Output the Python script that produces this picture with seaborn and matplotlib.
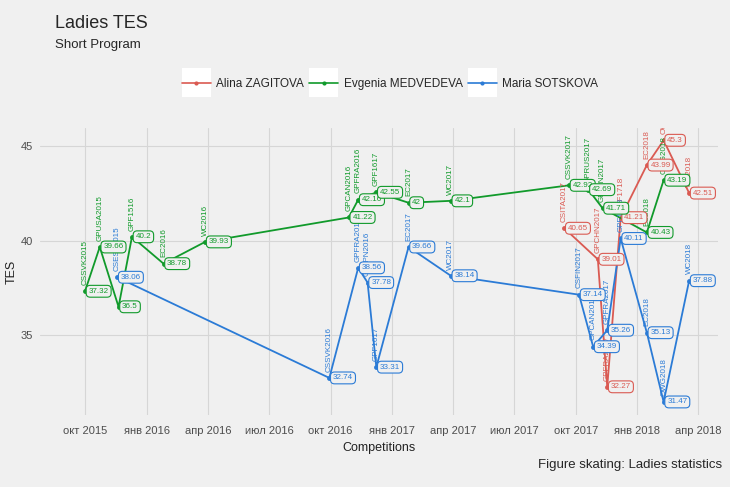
import matplotlib
matplotlib.use('Agg')
import matplotlib.pyplot as plt
from matplotlib.patches import Patch, Rectangle
from matplotlib.lines import Line2D
from matplotlib.legend_handler import HandlerTuple, HandlerPatch
import pandas as pd
import seaborn as sns

# Short program TES per competition (start date of each event)
zag_events = ['CSITA2017', 'GPCHN2017', 'GPFRA2017', 'GPF1718', 'EC2018', 'OWG2018', 'WC2018']
zag_dates = ['2017-09-14', '2017-11-03', '2017-11-17', '2017-12-07', '2018-01-15', '2018-02-09', '2018-03-19']
zag_tes = [40.65, 39.01, 32.27, 41.21, 43.99, 45.3, 42.51]

med_events = ['CSSVK2015', 'GPUSA2015', 'GPRUS2015', 'GPF1516', 'EC2016', 'WC2016',
              'GPCAN2016', 'GPFRA2016', 'GPF1617', 'EC2017', 'WC2017',
              'CSSVK2017', 'GPRUS2017', 'GPJPN2017', 'EC2018', 'OWG2018']
med_dates = ['2015-10-01', '2015-10-23', '2015-11-20', '2015-12-10', '2016-01-26', '2016-03-28',
             '2016-10-28', '2016-11-11', '2016-12-08', '2017-01-25', '2017-03-29',
             '2017-09-21', '2017-10-20', '2017-11-10', '2018-01-15', '2018-02-09']
med_tes = [37.32, 39.66, 36.5, 40.2, 38.78, 39.93, 41.22, 42.16, 42.55, 42.0, 42.1,
           42.92, 42.69, 41.71, 40.43, 43.19]

sot_events = ['CSEST2015', 'CSSVK2016', 'GPFRA2016', 'GPJPN2016', 'GPF1617', 'EC2017', 'WC2017',
              'CSFIN2017', 'GPCAN2017', 'GPFRA2017', 'GPF1718', 'EC2018', 'OWG2018', 'WC2018']
sot_dates = ['2015-11-18', '2016-09-29', '2016-11-11', '2016-11-25', '2016-12-08', '2017-01-25', '2017-03-29',
             '2017-10-06', '2017-10-27', '2017-11-17', '2017-12-07', '2018-01-15', '2018-02-09', '2018-03-19']
sot_tes = [38.06, 32.74, 38.56, 37.78, 33.31, 39.66, 38.14, 37.14, 34.39, 35.26, 40.11,
           35.13, 31.47, 37.88]

skaters = ['Alina ZAGITOVA', 'Evgenia MEDVEDEVA', 'Maria SOTSKOVA']
palette = {'Alina ZAGITOVA': '#DA5A52', 'Evgenia MEDVEDEVA': '#119A2B', 'Maria SOTSKOVA': '#2B7BD6'}
hidden_names = {('Evgenia MEDVEDEVA', 'GPRUS2015')}

ru_months = {1: 'янв', 4: 'апр', 7: 'июл', 10: 'окт'}

frames = []
for name, ev, d, v in zip(skaters, [zag_events, med_events, sot_events],
                          [zag_dates, med_dates, sot_dates], [zag_tes, med_tes, sot_tes]):
    frames.append(pd.DataFrame({'skater': name, 'event': ev,
                                'date': pd.to_datetime(d), 'tes': v}))
df = pd.concat(frames, ignore_index=True)

BG = '#F0F0F0'
sns.set_style('whitegrid', {'axes.facecolor': BG, 'figure.facecolor': BG,
                            'grid.color': '#D6D6D6', 'axes.edgecolor': BG})
plt.rcParams['font.family'] = ['Liberation Sans', 'DejaVu Sans']

fig = plt.figure(figsize=(7.3, 4.87), dpi=100, facecolor=BG)
ax = fig.add_axes([40 / 730, 1 - 415 / 487, 678 / 730, 287 / 487])

sns.lineplot(data=df, x='date', y='tes', hue='skater', hue_order=skaters, palette=palette,
             estimator=None, marker='o', markersize=3.5, markeredgewidth=0,
             linewidth=1.3, legend=False, ax=ax)

# competition names, rotated above each point
for row in df.itertuples():
    if (row.skater, row.event) in hidden_names:
        continue
    ax.annotate(row.event, (row.date, row.tes), xytext=(0, 4.5), textcoords='offset points',
                rotation=90, ha='center', va='bottom', fontsize=5.8,
                color=palette[row.skater], clip_on=True, zorder=4)

# value boxes
for row in df.itertuples():
    c = palette[row.skater]
    ax.annotate(f'{row.tes:g}', (row.date, row.tes), xytext=(2.6, 0), textcoords='offset points',
                ha='left', va='center', fontsize=5.8, color=c, zorder=5, clip_on=True,
                bbox=dict(boxstyle='round,pad=0.3,rounding_size=0.5', fc=BG, ec=c, lw=0.8))

ticks = pd.date_range('2015-10-01', '2018-04-01', freq='3MS')
ax.set_xticks(ticks)
ax.set_xticklabels([f'{ru_months[t.month]} {t.year}' for t in ticks])
ax.set_xlim(pd.Timestamp('2015-07-26'), pd.Timestamp('2018-05-01'))
ax.set_ylim(30.78, 45.95)
ax.set_yticks([35, 40, 45])
ax.tick_params(axis='both', length=0, labelsize=8, labelcolor='#4D4D4D', pad=5)
ax.tick_params(axis='x', pad=8)
ax.grid(True, color='#D6D6D6', linewidth=0.8)
for s in ax.spines.values():
    s.set_visible(False)

ax.set_xlabel('Competitions', fontsize=9, color='#222222')
ax.xaxis.set_label_coords(0.5, -(442 - 415) / 287)
ax.set_ylabel('TES', fontsize=9, color='#222222')
ax.yaxis.set_label_coords(-(40 - 18) / 678, 0.5)

fig.text(55 / 730, 1 - 24 / 487, 'Ladies TES', fontsize=13, va='center')
fig.text(55 / 730, 1 - 45 / 487, 'Short Program', fontsize=9.5, va='center')
fig.text(722 / 730, 1 - 465 / 487, 'Figure skating: Ladies statistics', fontsize=9.5,
         ha='right', va='center')


def key_square(legend, orig_handle, xdescent, ydescent, width, height, fontsize):
    # white square centred on the key line
    cy = (height - ydescent) / 2
    return Rectangle(xy=(-xdescent, cy - width / 2), width=width, height=width)


handles = [(Patch(facecolor='white', edgecolor='none'),
            Line2D([], [], color=palette[s], marker='o', markersize=3, markeredgewidth=0, linewidth=1.2))
           for s in skaters]
fig.legend(handles, skaters,
           handler_map={tuple: HandlerTuple(ndivide=1, pad=0), Patch: HandlerPatch(patch_func=key_square)},
           loc='center', bbox_to_anchor=(390 / 730, 1 - 84 / 487), ncol=3, frameon=False,
           fontsize=8.5, handlelength=2.45, handleheight=1.0, handletextpad=0.45,
           columnspacing=0.45, borderpad=0)

fig.savefig('out.png', dpi=100, facecolor=BG)
